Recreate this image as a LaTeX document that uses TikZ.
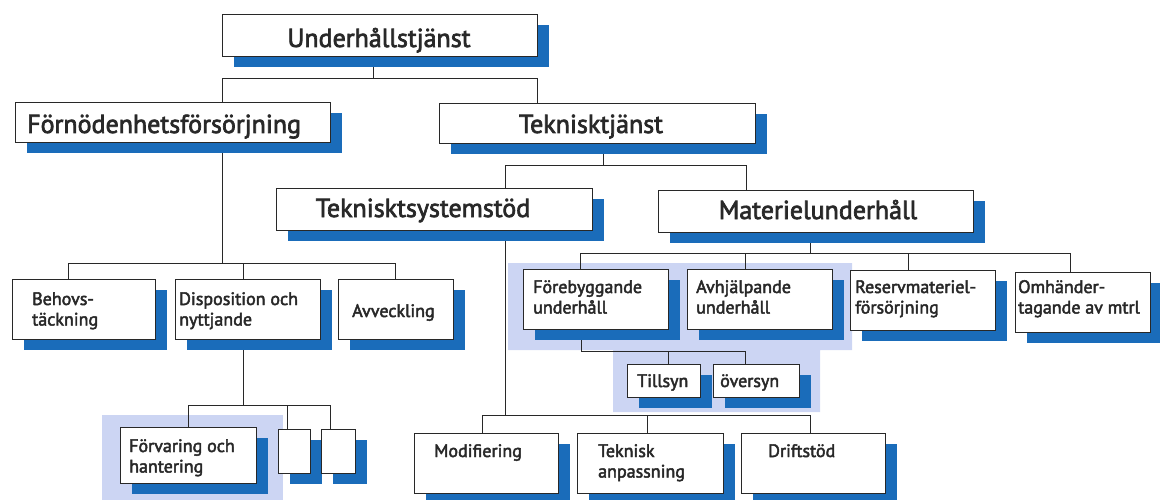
\documentclass[tikz,border=0pt]{standalone}
\usepackage{fontspec}
\newfontfamily\labelfont{PT Sans}[FakeBold=2.6]
\usetikzlibrary{fit}

\definecolor{shadowblue}{RGB}{26,108,186}
\definecolor{panel}{RGB}{204,213,243}
\definecolor{ink}{RGB}{40,40,40}

\pgfdeclarelayer{panels}
\pgfdeclarelayer{links}
\pgfdeclarelayer{shadows}
\pgfsetlayers{panels,links,shadows,main}

\tikzset{
  orgbox/.style={draw=ink, fill=white, line width=0.9pt, inner sep=0pt},
  link/.style={draw=ink, line width=0.8pt},
  bigtext/.style={inner sep=0pt, text=ink, font=\labelfont\fontsize{26}{26}\selectfont},
  smalltext/.style={inner sep=0pt, text=ink, anchor=base west,
    font=\labelfont\fontsize{18}{20.5}\selectfont},
}

% a white box with its blue drop shadow: name, x0, y0, x1, y1
\newcommand\orgrect[5]{%
  \node[orgbox, fit={(#2,#3)(#4,#5)}] (#1) {};
  \begin{pgfonlayer}{shadows}
    \fill[shadowblue] ([shift={(12pt,-11pt)}]#1.north west)
      rectangle ([shift={(12pt,-11pt)}]#1.south east);
  \end{pgfonlayer}}
% two stacked lines, baseline at the first one
\newcommand\twolines[2]{\vtop{\hbox{#1}\hbox{#2}}}

\begin{document}
\begin{tikzpicture}[x=1pt, y=-1pt]
\useasboundingbox (0,0) rectangle (1160,500);
\clip (0,0) rectangle (1160,500);

% tinted panels behind grouped boxes
\begin{pgfonlayer}{panels}
  \fill[panel] (102,415) rectangle (283,500);
  \fill[panel] (508,263) -- (852,263) -- (852,350) -- (820,350)
    -- (820,412) -- (613,412) -- (613,350) -- (508,350) -- cycle;
\end{pgfonlayer}

% boxes
\orgrect{uh}{222}{14}{537}{56}
\orgrect{forn}{15}{102}{330}{142}
\orgrect{tekn}{439}{103}{755}{143}
\orgrect{tss}{276}{188}{592}{230}
\orgrect{mat}{658}{190}{973}{232}
\orgrect{behov}{12}{279}{155}{339}
\orgrect{dispo}{175}{279}{320}{339}
\orgrect{avv}{338}{279}{453}{339}
\orgrect{forv}{120}{427}{256}{483}
\orgrect{e1}{278}{429}{310}{473}
\orgrect{e2}{321}{429}{355}{473}
\orgrect{foreb}{523}{269}{668}{329}
\orgrect{avhj}{687}{269}{832}{329}
\orgrect{resm}{850}{270}{995}{330}
\orgrect{omh}{1015}{272}{1150}{332}
\orgrect{till}{627}{364}{700}{397}
\orgrect{over}{713}{364}{799}{397}
\orgrect{modi}{414}{433}{558}{493}
\orgrect{tanp}{577}{433}{723}{493}
\orgrect{drift}{741}{433}{885}{493}

% texts
\node[bigtext, anchor=base] (uh-t) at (379,47) {Underhållstjänst};
\node[bigtext, anchor=base west] (forn-t) at (27,133) {Förnödenhetsförsörjning};
\node[bigtext, anchor=base] (tekn-t) at (591,133) {Teknisktjänst};
\node[bigtext, anchor=base] (tss-t) at (423,217) {Teknisktsystemstöd};
\node[bigtext, anchor=base] (mat-t) at (818,219) {Materielunderhåll};

\node[smalltext] (behov-t) at (32,305) {\twolines{Behovs-}{täckning}};
\node[smalltext] (dispo-t) at (179,305) {\twolines{Disposition och}{nyttjande}};
\node[smalltext] (avv-t) at (352,317) {Avveckling};
\node[smalltext] (forv-t) at (129,452) {\twolines{Förvaring och}{hantering}};
\node[smalltext] (foreb-t) at (533,293) {\twolines{Förebyggande}{underhåll}};
\node[smalltext] (avhj-t) at (696,293) {\twolines{Avhjälpande}{underhåll}};
\node[smalltext] (resm-t) at (855,293) {\twolines{Reservmateriel-}{försörjning}};
\node[smalltext] (omh-t) at (1018,293) {\twolines{Omhänder-}{tagande av mtrl}};
\node[smalltext] (till-t) at (637,387) {Tillsyn};
\node[smalltext] (over-t) at (720,387) {översyn};
\node[smalltext] (modi-t) at (434,457) {Modifiering};
\node[smalltext] (tanp-t) at (598,457) {\twolines{Teknisk}{anpassning}};
\node[smalltext] (drift-t) at (768,457) {Driftstöd};

% connectors
\begin{pgfonlayer}{links}
  % Underhållstjänst
  \coordinate (u0) at (373,78);
  \coordinate (ua) at (222,78);
  \coordinate (ub) at (537,78);
  \draw[link] (uh.south -| u0) -- (u0);
  \draw[link] (forn.north -| ua) |- (ub) -- (tekn.north -| ub);
  % Teknisktjänst
  \coordinate (k0) at (603,165);
  \coordinate (ka) at (505,165);
  \coordinate (kb) at (746,165);
  \draw[link] (tekn.south -| k0) -- (k0);
  \draw[link] (tss.north -| ka) |- (kb) -- (mat.north -| kb);
  % Förnödenhetsförsörjning
  \coordinate (f0) at (222,263);
  \coordinate (fa) at (68,263);
  \coordinate (fb) at (243,263);
  \coordinate (fc) at (395,263);
  \draw[link] (forn.south -| f0) -- (f0);
  \draw[link] (behov.north -| fa) |- (fc) -- (avv.north -| fc);
  \draw[link] (fb) -- (dispo.north -| fb);
  % Disposition och nyttjande
  \coordinate (d0) at (243,405);
  \coordinate (da) at (188,405);
  \coordinate (db) at (287,405);
  \coordinate (dc) at (330,405);
  \draw[link] (dispo.south -| d0) -- (d0);
  \draw[link] (forv.north -| da) |- (dc) -- (e2.north -| dc);
  \draw[link] (db) -- (e1.north -| db);
  % Teknisktsystemstöd
  \coordinate (t0) at (505,415);
  \coordinate (ta) at (482,415);
  \coordinate (tb) at (647,415);
  \coordinate (tc) at (810,415);
  \draw[link] (tss.south -| t0) -- (t0);
  \draw[link] (modi.north -| ta) |- (tc) -- (drift.north -| tc);
  \draw[link] (tb) -- (tanp.north -| tb);
  % Materielunderhåll
  \coordinate (m0) at (810,253);
  \coordinate (ma) at (580,253);
  \coordinate (mb) at (745,253);
  \coordinate (mc) at (908,253);
  \coordinate (md) at (1070,253);
  \draw[link] (mat.south -| m0) -- (m0);
  \draw[link] (foreb.north -| ma) |- (md) -- (omh.north -| md);
  \draw[link] (mb) -- (avhj.north -| mb);
  \draw[link] (mc) -- (resm.north -| mc);
  % Förebyggande underhåll
  \coordinate (p0) at (581,351);
  \coordinate (pa) at (668,351);
  \coordinate (pb) at (745,351);
  \draw[link] (foreb.south -| p0) |- (pb) -- (over.north -| pb);
  \draw[link] (pa) -- (till.north -| pa);
\end{pgfonlayer}
\end{tikzpicture}
\end{document}
